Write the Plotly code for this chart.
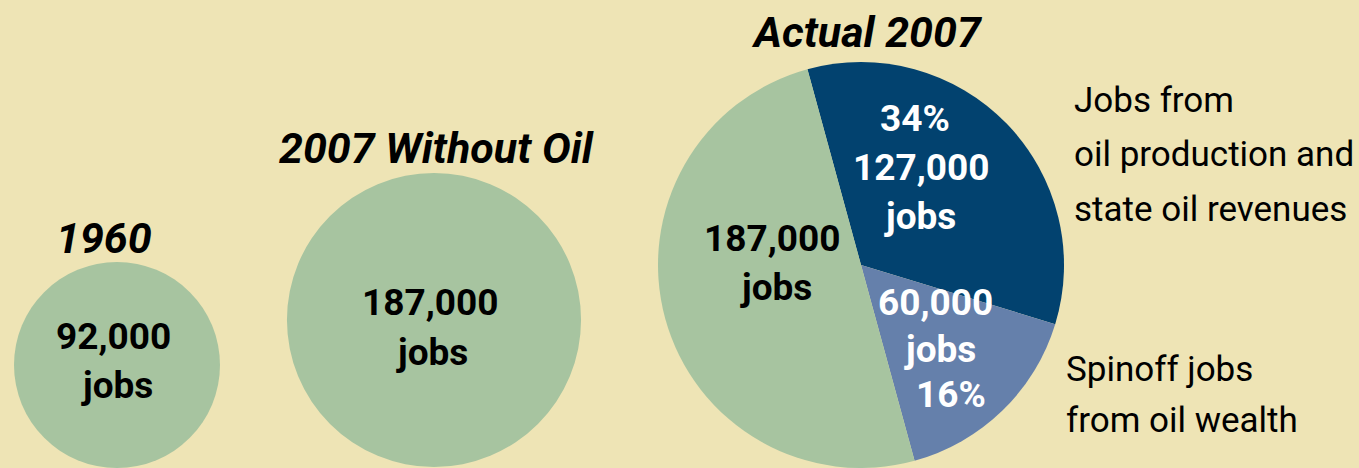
import plotly.graph_objects as go

W, H = 1359, 468

# ---------------- data ----------------
titles = ["1960", "2007 Without Oil", "Actual 2007"]
jobs_1960 = [92000]
jobs_without_oil = [187000]
actual_labels = ["Jobs from oil production and state oil revenues",
                 "Spinoff jobs from oil wealth",
                 "Jobs without oil"]
actual_jobs = [127000, 60000, 187000]
actual_pct = [34, 16, 50]
note_oil = ["Jobs from", "oil production and", "state oil revenues"]
note_spinoff = ["Spinoff jobs", "from oil wealth"]

# ---------------- styles / layout ----------------
BG = "#EEE4B5"
GREEN = "#A7C4A0"
DARK = "#02426F"
LIGHT = "#6580AB"
FONT = "Roboto, Liberation Sans, sans-serif"

# circle geometry in pixels: (cx, cy, r)
geo = [(117, 365, 103), (434, 320, 147), (861, 265, 203)]


def domain(cx, cy, r):
    return dict(x=[(cx - r) / W, (cx + r) / W],
                y=[max(0, 1 - (cy + r) / H), min(1, 1 - (cy - r) / H)])


fig = go.Figure()
fig.add_trace(go.Pie(values=jobs_1960, labels=["1960"], marker=dict(colors=[GREEN], line=dict(width=0)),
                     domain=domain(*geo[0]), textinfo="none", hoverinfo="skip", sort=False,
                     showlegend=False))
fig.add_trace(go.Pie(values=jobs_without_oil, labels=["2007 Without Oil"],
                     marker=dict(colors=[GREEN], line=dict(width=0)),
                     domain=domain(*geo[1]), textinfo="none", hoverinfo="skip", sort=False,
                     showlegend=False))
fig.add_trace(go.Pie(values=actual_jobs, labels=actual_labels,
                     marker=dict(colors=[DARK, LIGHT, GREEN], line=dict(width=0)),
                     domain=domain(*geo[2]), textinfo="none", hoverinfo="skip", sort=False,
                     direction="clockwise", rotation=-15.3, showlegend=False))

anns = []


def ann(text, x, y, size, color="black", bold=True, italic=False, xanchor="center"):
    anns.append(dict(text=text, x=x / W, y=1 - y / H, xref="paper", yref="paper",
                     xanchor=xanchor, yanchor="middle", showarrow=False,
                     font=dict(family=FONT, size=size, color=color,
                               weight="bold" if bold else "normal",
                               style="italic" if italic else "normal")))


NUM = 37
TIT = 43
NOTE = 35

# titles
ann(titles[0], 104, 238, TIT, italic=True)
ann(titles[1], 436, 148, TIT, italic=True)
ann(titles[2], 866, 32, TIT, italic=True)

# circle labels
ann(f"{jobs_1960[0]:,}", 113, 336, NUM)
ann("jobs", 117, 385, NUM)
ann(f"{jobs_without_oil[0]:,}", 430, 302, NUM)
ann("jobs", 432, 352, NUM)

# pie labels
ann(f"{actual_pct[0]}%", 915, 118, NUM, color="white")
ann(f"{actual_jobs[0]:,}", 921, 167, NUM, color="white")
ann("jobs", 920, 216, NUM, color="white")
ann(f"{actual_jobs[2]:,}", 772, 238, NUM)
ann("jobs", 776, 287, NUM)
ann(f"{actual_jobs[1]:,}", 935, 302, NUM, color="white")
ann("jobs", 940, 349, NUM, color="white")
ann(f"{actual_pct[1]}%", 951, 394, NUM, color="white")

# side notes
for i, line in enumerate(note_oil):
    ann(line, 1072, 100 + 55 * i, NOTE, bold=False, xanchor="left")
for i, line in enumerate(note_spinoff):
    ann(line, 1064, 369 + 51 * i, NOTE, bold=False, xanchor="left")

fig.update_layout(width=W, height=H, margin=dict(l=0, r=0, t=0, b=0),
                  paper_bgcolor=BG, plot_bgcolor=BG, annotations=anns, showlegend=False)

fig.write_html("out.html", config={"displayModeBar": False},
               post_script="document.body.style.margin='0';document.body.style.overflow='hidden';")
